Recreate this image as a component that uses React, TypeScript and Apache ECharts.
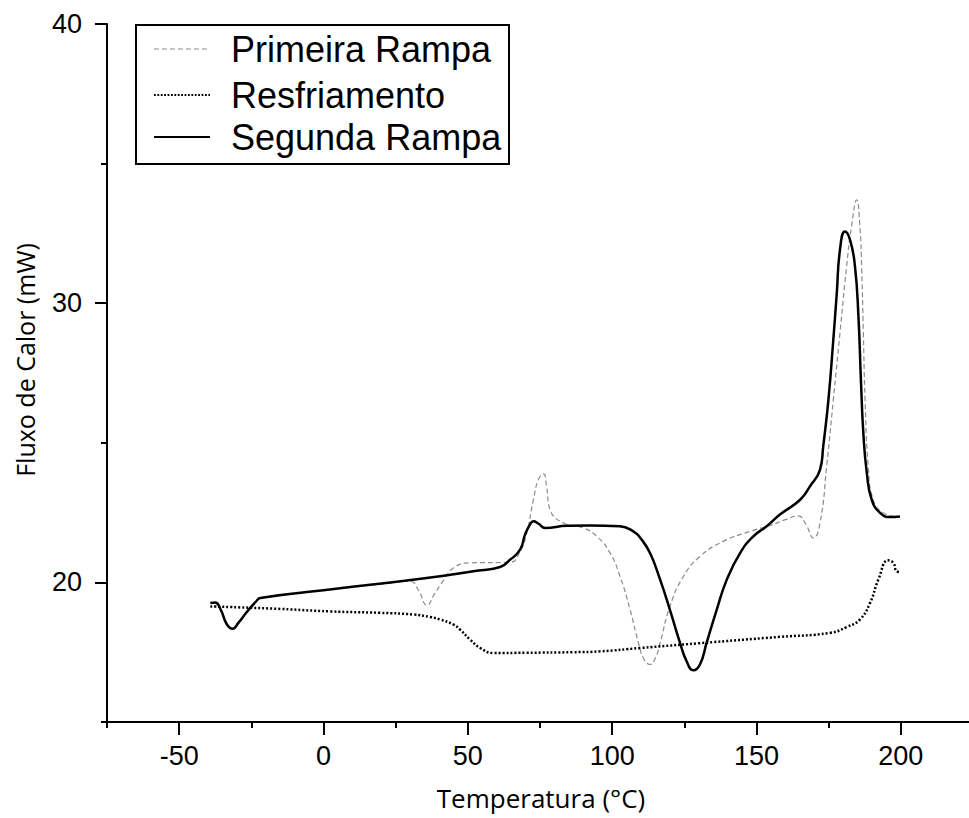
import React, { useEffect, useRef } from "react";
import * as echarts from "echarts";

const seriesNames = ["Primeira Rampa", "Resfriamento", "Segunda Rampa"];

const xTickLabels = [-50, 0, 50, 100, 150, 200];
const xMinorTicks = [-75, -25, 25, 75, 125, 175];
const yTickLabels = [20, 30, 40];
const yMinorTicks = [15, 25, 35];

const primeiraRampa: [number, number][] = [
  [-22, 19.44], [0, 19.72], [20, 19.94], [30, 20.04], [33, 19.7], [35.8, 19.18],
  [38.5, 19.6], [41.6, 20.07], [45, 20.52], [50.8, 20.7], [64.6, 20.72], [68.1, 21.11],
  [70.4, 21.77], [72.7, 22.96], [74.5, 23.7], [76.2, 23.89], [77.3, 23.4], [78.5, 22.6],
  [83.1, 22.13], [90, 21.95], [94.7, 21.65], [99.3, 21.05], [102.7, 20.22], [106.2, 19.02],
  [109.1, 17.83], [111, 17.25], [113.1, 17.06], [115, 17.3], [116.6, 17.83], [120, 19.14],
  [124.7, 20.22], [130.4, 20.93], [138.5, 21.47], [147.8, 21.83], [155, 22.05], [160, 22.25],
  [164.5, 22.38], [167, 22.1], [169.7, 21.59], [172, 22.13], [174.3, 24.16], [176.6, 26.54],
  [178.9, 28.93], [181.2, 31.32], [182.9, 32.75], [184.7, 33.7], [185.8, 32.75], [186.4, 31.32],
  [187.0, 28.93], [187.6, 26.54], [188.7, 24.16], [190.4, 22.96], [193.9, 22.49], [198.5, 22.36],
];

const resfriamento: [number, number][] = [
  [-39.2, 19.14], [-15, 19.05], [2.3, 18.96], [19.6, 18.91], [31.2, 18.85], [37, 18.76],
  [40.4, 18.67], [45, 18.49], [47.3, 18.31], [50.8, 17.95], [54.3, 17.65], [58.9, 17.47],
  [70, 17.48], [86.6, 17.5], [95.8, 17.53], [109.7, 17.65], [130, 17.82], [158.1, 18.05],
  [175.4, 18.19], [181.2, 18.4], [185.8, 18.67], [189.3, 19.26], [192.2, 20.1], [195.6, 20.79],
  [197.4, 20.7], [198.5, 20.4], [199.7, 20.37],
];

const segundaRampa: [number, number][] = [
  [-39.2, 19.26], [-37.5, 19.28], [-35.5, 19.0], [-33.5, 18.5], [-31.5, 18.34], [-29.5, 18.55],
  [-26.5, 18.95], [-23.5, 19.3], [-21.9, 19.44], [0, 19.72], [20, 19.96], [40.4, 20.22],
  [51.9, 20.4], [61.2, 20.55], [64.6, 20.81], [68.1, 21.17], [69.8, 21.71], [71.5, 22.07],
  [72.7, 22.19], [74.5, 22.1], [76.8, 21.95], [84.3, 22.03], [92.3, 22.04], [102.7, 22.01],
  [107.3, 21.83], [109.7, 21.6], [113.1, 21.05], [116.6, 20.1], [120, 19.02], [123.5, 17.83],
  [125.8, 17.17], [128.1, 16.85], [130.4, 17.06], [132.7, 17.83], [136.2, 19.02], [139.7, 20.1],
  [144.3, 21.05], [148.9, 21.65], [153.5, 22.01], [158.1, 22.43], [165.1, 22.96], [168.5, 23.44],
  [172, 24.04], [173.1, 24.87], [174.9, 26.54], [176.6, 28.69], [177.8, 30.36], [178.9, 31.91],
  [180.6, 32.57], [182.4, 32.27], [184.1, 31.32], [185.3, 29.53], [186.2, 27.14], [187, 25.35],
  [188.2, 23.92], [189.9, 22.96], [192.8, 22.49], [196.3, 22.34], [199.7, 22.36],
];

const X_MIN = -75;
const X_MAX = 223.6;
const Y_MIN = 15;
const Y_MAX = 40;

export default function App() {
  const ref = useRef<HTMLDivElement>(null);

  useEffect(() => {
    if (!ref.current) return;
    const chart = echarts.init(ref.current, undefined, { renderer: "svg" });
    const tickFont = "'Liberation Sans', Arial, sans-serif";
    const axisLineStyle = { color: "#000", width: 2 };

    const lineStyles = [
      { stroke: "#8c8c8c", lineWidth: 1.2, lineDash: [5, 3] },
      { stroke: "#000", lineWidth: 1.8, lineDash: [1.8, 1.6] },
      { stroke: "#000", lineWidth: 2.2 },
    ];
    const legendRowsY = [49, 95, 137];

    const legendGraphics: any[] = [
      {
        type: "rect",
        shape: { x: 136, y: 25, width: 373, height: 139 },
        style: { fill: "#fff", stroke: "#000", lineWidth: 2 },
        z: 100,
      },
    ];
    seriesNames.forEach((name, i) => {
      legendGraphics.push({
        type: "line",
        shape: { x1: 154, y1: legendRowsY[i], x2: 210, y2: legendRowsY[i] },
        style: { ...lineStyles[i], fill: null },
        z: 101,
      });
      legendGraphics.push({
        type: "text",
        x: 231,
        y: legendRowsY[i],
        style: {
          text: name,
          fontSize: 36,
          fontFamily: tickFont,
          fill: "#000",
          align: "left",
          verticalAlign: "middle",
        },
        z: 101,
      });
    });

    chart.setOption({
      animation: false,
      backgroundColor: "#fff",
      grid: { left: 107, right: 0, top: 24, bottom: 96, containLabel: false, outerBoundsMode: "none" },
      xAxis: [
        {
          type: "value",
          min: X_MIN,
          max: X_MAX,
          interval: 25,
          splitLine: { show: false },
          axisLine: { show: true, onZero: false, lineStyle: axisLineStyle },
          axisTick: { show: true, customValues: xTickLabels, length: 13, lineStyle: { color: "#000", width: 2 } },
          axisLabel: {
            customValues: xTickLabels,
            color: "#000",
            fontSize: 27,
            fontFamily: tickFont,
            margin: 20,
          },
        },
        {
          type: "value",
          min: X_MIN,
          max: X_MAX,
          position: "bottom",
          splitLine: { show: false },
          axisLine: { show: false, onZero: false },
          axisTick: { show: true, customValues: xMinorTicks, length: 6, lineStyle: { color: "#000", width: 2 } },
          axisLabel: { show: false },
        },
      ],
      yAxis: [
        {
          type: "value",
          min: Y_MIN,
          max: Y_MAX,
          interval: 5,
          splitLine: { show: false },
          axisLine: { show: true, onZero: false, lineStyle: axisLineStyle },
          axisTick: { show: true, customValues: yTickLabels, length: 12, lineStyle: { color: "#000", width: 2 } },
          axisLabel: {
            customValues: yTickLabels,
            color: "#000",
            fontSize: 27,
            fontFamily: tickFont,
            margin: 25,
          },
        },
        {
          type: "value",
          min: Y_MIN,
          max: Y_MAX,
          position: "left",
          splitLine: { show: false },
          axisLine: { show: false, onZero: false },
          axisTick: { show: true, customValues: yMinorTicks, length: 6, lineStyle: { color: "#000", width: 2 } },
          axisLabel: { show: false },
        },
      ],
      graphic: [
        {
          type: "text",
          x: 541,
          y: 798,
          style: {
            text: "Temperatura (°C)",
            fontSize: 26,
            fontFamily: "'Open Sans', sans-serif",
            fill: "#000",
            align: "center",
            verticalAlign: "middle",
          },
        },
        {
          type: "text",
          x: 25,
          y: 360,
          rotation: Math.PI / 2,
          style: {
            text: "Fluxo de Calor (mW)",
            fontSize: 25,
            fontFamily: "'Open Sans', sans-serif",
            fill: "#000",
            align: "center",
            verticalAlign: "middle",
          },
        },
        ...legendGraphics,
      ],
      series: [
        {
          name: seriesNames[0],
          type: "line",
          data: primeiraRampa,
          showSymbol: false,
          symbol: "none",
          smooth: 0.5,
          lineStyle: { color: "#8c8c8c", width: 1.2, type: [5, 3] },
          itemStyle: { color: "#8c8c8c" },
          z: 2,
        },
        {
          name: seriesNames[1],
          type: "line",
          data: resfriamento,
          showSymbol: false,
          symbol: "none",
          smooth: 0.5,
          lineStyle: { color: "#000", width: 2.5, type: [2, 2] },
          itemStyle: { color: "#000" },
          z: 3,
        },
        {
          name: seriesNames[2],
          type: "line",
          data: segundaRampa,
          showSymbol: false,
          symbol: "none",
          smooth: 0.5,
          lineStyle: { color: "#000", width: 2.5, type: "solid" },
          itemStyle: { color: "#000" },
          z: 4,
        },
      ],
    });

    return () => chart.dispose();
  }, []);

  return (
    <div
      ref={ref}
      style={{ position: "absolute", left: 0, top: 0, width: 969, height: 818, background: "#fff" }}
    />
  );
}
